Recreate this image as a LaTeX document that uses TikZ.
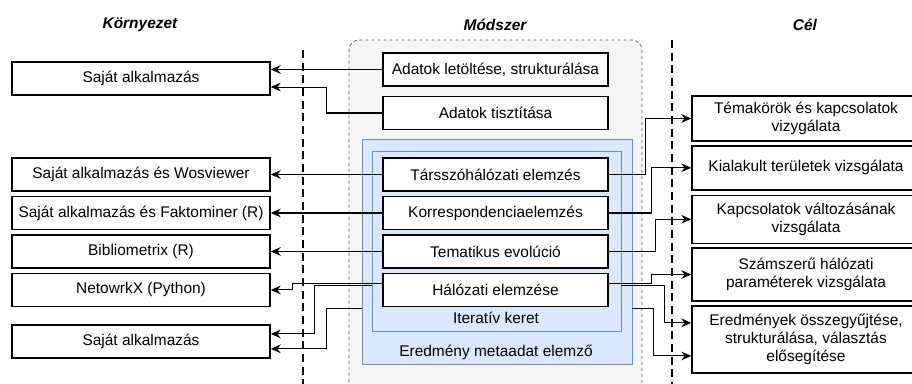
\documentclass[tikz,border=0pt]{standalone}
\usepackage{fontspec}
\setmainfont{Liberation Sans}
\usetikzlibrary{positioning,arrows.meta}
\definecolor{framefill}{HTML}{DAE8FC}
\definecolor{frameedge}{HTML}{6C8EBF}
\definecolor{panelfill}{HTML}{F5F5F5}
\definecolor{paneledge}{HTML}{666666}
\tikzset{
  box/.style={draw,line width=1.1pt,fill=white,inner sep=0pt,align=center,
    font=\fontsize{11.6}{13.5}\selectfont},
  envbox/.style={box,minimum width=193.5pt,minimum height=24.75pt},
  methbox/.style={box,minimum width=168.75pt,minimum height=24.75pt},
  goalbox/.style={box,minimum width=171pt},
  frame/.style={draw=frameedge,fill=framefill,line width=0.7pt,inner sep=0pt},
  arr/.style={-{Stealth[length=7.5pt,width=6.5pt,inset=2.5pt]},line width=0.8pt},
  sep/.style={line width=1.8pt,dash pattern=on 6pt off 3.5pt},
  title/.style={font=\fontsize{11.6}{13.5}\selectfont\bfseries\itshape}
}

\begin{document}
\begin{tikzpicture}[x=0.75pt,y=-0.75pt]
            \useasboundingbox (0,0) rectangle (912,383);
            \fill[panelfill] (349,40) [rounded corners=7.5pt] rectangle (642,400);
            \draw[paneledge,line width=0.6pt,dash pattern=on 2.5pt off 2pt,rounded corners=7.5pt] (349,400) -- (349,40) -- (642,40) -- (642,400);
            \draw[sep] (303,50) -- (303,390);
            \draw[sep] (672,40) -- (672,390);
            \node[title](kor) at (140,25){Környezet};
            \node[title](mod) at (495,25){Módszer};
            \node[title](cel) at (805,25){Cél};
            \node[frame,minimum width=202.5pt,minimum height=168.75pt](meta) at (497,251.5){};
            \node[frame,minimum width=186.75pt,minimum height=135pt](iter) at (496.5,241){};
            \node[font=\fontsize{11.6}{13.5}\selectfont](itl) at (496,318){Iteratív keret};
            \node[font=\fontsize{11.6}{13.5}\selectfont](mtl) at (496,352){Eredmény metaadat elemző};
            \node[envbox](sa1) at (141,78.5){Saját alkalmazás};
            \node[envbox](wos) at (141,174.5){Saját alkalmazás és Wosviewer};
            \node[envbox](fak)[below =3pt of wos]{Saját alkalmazás és Faktominer (R)};
            \node[envbox](bib)[below =3pt of fak]{Bibliometrix (R)};
            \node[envbox](nx)[below =3pt of bib]{NetowrkX (Python)};
            \node[envbox](sa2)[below =12.75pt of nx]{Saját alkalmazás};
            \node[methbox](letolt) at (495.5,69.5){Adatok letöltése, strukturálása};
            \node[methbox](tiszt)[below =6.75pt of letolt]{Adatok tisztítása};
            \node[methbox](tars) at (495.5,174.5){Társszóhálózati elemzés};
            \node[methbox](korr)[below =3pt of tars]{Korrespondenciaelemzés};
            \node[methbox](tema)[below =3pt of korr]{Tematikus evolúció};
            \node[methbox](halo)[below =3pt of tema]{Hálózati elemzése};
            \node[goalbox,minimum height=33.75pt](tem) at (806,118.5){Témakörök és kapcsolatok\\vizygálata};
            \node[goalbox,minimum height=33pt](kia)[below =2.5pt of tem]{Kialakult területek vizsgálata};
            \node[goalbox,minimum height=36pt](kap)[below =3pt of kia]{Kapcsolatok változásának\\vizsgálata};
            \node[goalbox,minimum height=39.75pt](szam)[below =2.5pt of kap]{Számszerű hálózati\\paraméterek vizsgálata};
            \node[goalbox,minimum height=50.25pt](ered)[below =2.5pt of szam]{Eredmények összegyűjtése,\\strukturálása, választás\\elősegítése};
            \draw[arr] (letolt.west) -- (letolt.west -| sa1.east);
            \draw[arr] (tiszt.west) -- ++(-56,0) |- ([yshift=-6.4pt]sa1.east);
            \draw[arr] (tars.west) -- (wos.east);
            \draw[arr] (korr.west) -- (fak.east);
            \draw[arr] (tema.west) -- (bib.east);
            \draw[arr] ([yshift=5pt]halo.west) -- ++(-90,0) |- (nx.east);
            \draw[arr] ([yshift=-33.4pt]iter.west) -- ++(-57,0) |- ([yshift=5.6pt]sa2.east);
            \draw[arr] ([yshift=-42.4pt]meta.west) -- ++(-35,0) |- ([yshift=-5.6pt]sa2.east);
            \draw[arr] (tars.east) -- ++(37,0) |- (tem.west);
            \draw[arr] (korr.east) -- ++(43,0) |- (kia.west);
            \draw[arr] (tema.east) -- ++(47,0) |- (kap.west);
            \draw[arr] ([yshift=5pt]halo.east) -- ++(43,0) |- (szam.west);
            \draw[arr] ([yshift=-33.4pt]iter.east) -- ++(43,0) |- ([yshift=12.4pt]ered.west);
            \draw[arr] ([yshift=-42.4pt]meta.east) -- ++(21,0) |- ([yshift=-12.4pt]ered.west);
\end{tikzpicture}
\end{document}
